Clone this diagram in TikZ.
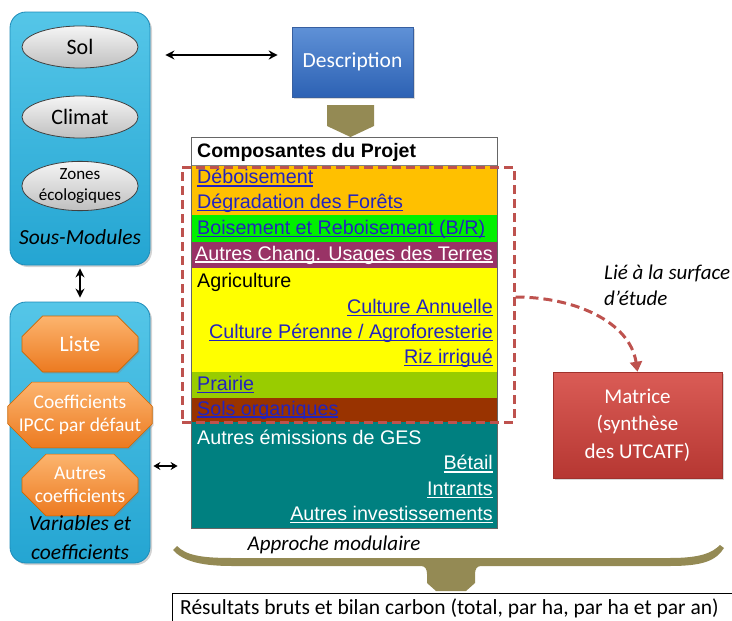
\documentclass[tikz,border=0pt]{standalone}
\usepackage{fontspec}
\setmainfont{Carlito}
\newfontfamily\arialf{Liberation Sans}
\usetikzlibrary{shapes.misc,shapes.geometric,arrows.meta,calc,shadows}
\definecolor{cyanT}{RGB}{85,198,232}
\definecolor{cyanB}{RGB}{36,165,210}
\definecolor{cyanD}{RGB}{30,140,185}
\definecolor{olivec}{RGB}{148,138,84}
\definecolor{dashred}{RGB}{190,82,78}
\definecolor{orrow}{RGB}{255,192,0}
\definecolor{grrow}{RGB}{0,240,0}
\definecolor{purow}{RGB}{153,51,102}
\definecolor{yerow}{RGB}{255,255,0}
\definecolor{prrow}{RGB}{153,204,0}
\definecolor{brrow}{RGB}{153,51,0}
\definecolor{tealrow}{RGB}{0,128,128}
\definecolor{linkb}{RGB}{35,35,190}
\newcommand\ulx[1]{\setbox0\hbox{#1}\rlap{\rule[-2.6pt]{\wd0}{1.2pt}}\box0}
\newcommand\tabfont{\arialf\fontsize{19.7}{22}\selectfont}
\begin{document}
\begin{tikzpicture}[x=1pt,y=-1pt,
  modbox/.style={draw=cyanD, line width=0.8pt, rounded corners=16pt, top color=cyanT, bottom color=cyanB, drop shadow={opacity=0.35,shadow xshift=2pt,shadow yshift=-2pt}},
  ell/.style={ellipse, draw=black!75, line width=0.8pt, top color=white!96!black, bottom color=black!25, minimum width=116pt, inner sep=0pt, font=\fontsize{22}{24}\selectfont},
  oct/.style={chamfered rectangle, chamfered rectangle xsep=11pt, chamfered rectangle ysep=13pt, draw=orange!80!black, line width=0.6pt, top color={rgb,255:red,252;green,180;blue,110}, bottom color={rgb,255:red,236;green,122;blue,32}, minimum width=116pt, inner sep=0pt, text=white, align=center, font=\fontsize{19.5}{23}\selectfont, drop shadow={opacity=0.3,shadow xshift=1.5pt,shadow yshift=-1.5pt}},
  ital/.style={font=\itshape\fontsize{21.5}{29}\selectfont, align=center, inner sep=0pt},
  dbl/.style={{Stealth[length=9pt,width=9pt]}-{Stealth[length=9pt,width=9pt]}, line width=2.4pt, black},
  cell/.style={inner sep=0pt, anchor=west, font=\tabfont},
  cellr/.style={inner sep=0pt, anchor=east, font=\tabfont},
]
\useasboundingbox (0,0) rectangle (732,621);
% left modules
\node[modbox, minimum width=140pt, minimum height=253pt] (sm) at (80,138.5) {};
\node[ell, minimum height=42pt] (sol) at (80,47) {Sol};
\node[ell, minimum height=42pt] (clim) at (80,117) {Climat};
\node[ell, minimum height=48pt, align=center, font=\fontsize{17}{21}\selectfont] (zones) at (80,186) {Zones\\écologiques};
\node[ital] (smlab) at (80,237) {Sous-Modules};
\node[modbox, minimum width=140pt, minimum height=261pt] (vc) at (80,432.5) {};
\node[oct, minimum height=56pt, font=\fontsize{22}{24}\selectfont] (liste) at (80,344) {Liste};
\node[oct, minimum height=55pt] (ipcc) at (80,415) {Coefficients\\IPCC par défaut};
\node[oct, minimum height=56pt] (autres) at (80,485) {Autres\\coefficients};
\node[ital] (vclab) at (80,538) {Variables et\\coefficients};
% description
\node[draw={rgb,255:red,55;green,95;blue,160}, line width=0.6pt, top color={rgb,255:red,95;green,145;blue,215}, bottom color={rgb,255:red,45;green,98;blue,180}, minimum width=121pt, minimum height=70pt, text=white, font=\fontsize{21.5}{24}\selectfont, drop shadow={opacity=0.3,shadow xshift=2pt,shadow yshift=-2pt}] (desc) at (352.5,62) {Description};
% arrows
\draw[dbl, shorten <=15pt, shorten >=14pt] (sm.east |- 0,55) -- (desc.west |- 0,55);
\draw[dbl, shorten <=3pt, shorten >=4pt] (sm.south) -- (vc.north);
% table
\node[draw=black!60, line width=0.8pt, minimum width=305pt, minimum height=390pt, inner sep=0pt] (tab) at (344.5,333) {};
\fill[white] (192,138) rectangle (497,165);
\fill[orrow] (192,165) rectangle (497,215);
\fill[grrow] (192,215) rectangle (497,242);
\fill[purow] (192,242) rectangle (497,268);
\fill[yerow] (192,268) rectangle (497,372);
\fill[prrow] (192,372) rectangle (497,398);
\fill[brrow] (192,398) rectangle (497,422);
\fill[tealrow] (192,422) rectangle (497,528);
\draw[black!60, line width=0.8pt] (tab.north west) rectangle (tab.south east);
\draw[black!50, line width=0.5pt] (192,165) -- (497,165);
\node[cell, font=\arialf\bfseries\fontsize{19.5}{22}\selectfont] (hdr) at (197,152) {Composantes du Projet};
\node[cell, text=linkb] (r1) at (197,178) {\ulx{Déboisement}};
\node[cell, text=linkb] (r2) at (197,203) {\ulx{Dégradation des Forêts}};
\node[cell, text=linkb] (r3) at (197,229) {\ulx{Boisement et Reboisement (B/R)}};
\node[cell, text=white] (r4) at (195,255) {\ulx{Autres Chang. Usages des Terres}};
\node[cell] (r5) at (197,282) {Agriculture};
\node[cellr, text=linkb] (r6) at (493,308) {\ulx{Culture Annuelle}};
\node[cellr, text=linkb] (r7) at (493,333) {\ulx{Culture Pérenne / Agroforesterie}};
\node[cellr, text=linkb] (r8) at (493,358) {\ulx{Riz irrigué}};
\node[cell, text=linkb] (r9) at (197,385) {\ulx{Prairie}};
\node[cell, text=linkb] (r10) at (197,410) {\ulx{Sols organiques}};
\node[cell, text=white] (r11) at (197,437) {Autres émissions de GES};
\node[cellr, text=white] (r12) at (493,464) {\ulx{Bétail}};
\node[cellr, text=white] (r13) at (493,490) {\ulx{Intrants}};
\node[cellr, text=white] (r14) at (493,515) {\ulx{Autres investissements}};
% olive arrow desc -> table
\fill[olivec] (327,105) -- (374,105) -- (374,126) -- (350.5,137) -- (327,126) -- cycle;
% double arrow vc <-> table
\draw[dbl, {Stealth[length=7pt,width=8pt]}-{Stealth[length=7pt,width=8pt]}, line width=2pt, shorten <=3pt, shorten >=14pt] (vc.east |- 0,466) -- (tab.west |- 0,466);
% dashed rectangle
\node[draw=dashred, dash pattern=on 9pt off 5pt, line width=3pt, minimum width=332pt, minimum height=255pt, inner sep=0pt] (dbox) at (348,294.5) {};
% matrice
\node[draw={rgb,255:red,160;green,50;blue,45}, line width=0.6pt, top color={rgb,255:red,218;green,92;blue,86}, bottom color={rgb,255:red,182;green,55;blue,50}, minimum width=169pt, minimum height=106pt, text=white, align=center, font=\fontsize{21}{27.5}\selectfont, drop shadow={opacity=0.3,shadow xshift=2pt,shadow yshift=-2pt}] (mat) at (637.5,425) {Matrice\\(synthèse\\des UTCATF)};
\coordinate (ds) at (dbox.east |- 0,297);
\draw[dashred, dash pattern=on 9pt off 5pt, line width=3pt, -{Triangle[length=10pt,width=12pt]}] (ds) .. controls (575,297) and (630,322) .. (mat.north);
\node[font=\itshape\fontsize{21}{26}\selectfont, align=left, anchor=west, inner sep=0pt] (lie) at (604,285) {Lié à la surface\\d’étude};
% approche modulaire + brace
\node[font=\itshape\fontsize{21}{24}\selectfont, inner sep=0pt] (appr) at (334,545) {Approche modulaire};
\fill[olivec] (177,546) .. controls (186,555) and (200,558) .. (232,558) -- (670,558) .. controls (700,558) and (712,553) .. (720,545) -- (724,548) .. controls (716,561) and (702,566) .. (670,566) -- (481,566) .. controls (477,566) and (475,569) .. (475,574) -- (475,583) -- (466,591) -- (436,591) -- (427,583) -- (427,574) .. controls (427,569) and (425,566) .. (421,566) -- (232,566) .. controls (198,566) and (182,560) .. (173,550) -- cycle;
% results box
\node[draw=black, line width=1.4pt, minimum width=570pt, minimum height=40pt, anchor=north west, inner sep=0pt] (res) at (172,593) {};
\node[font=\fontsize{21.5}{24}\selectfont, anchor=west, inner sep=0pt] (restxt) at (180,608) {Résultats bruts et bilan carbon (total, par ha, par ha et par an)};
\end{tikzpicture}
\end{document}
